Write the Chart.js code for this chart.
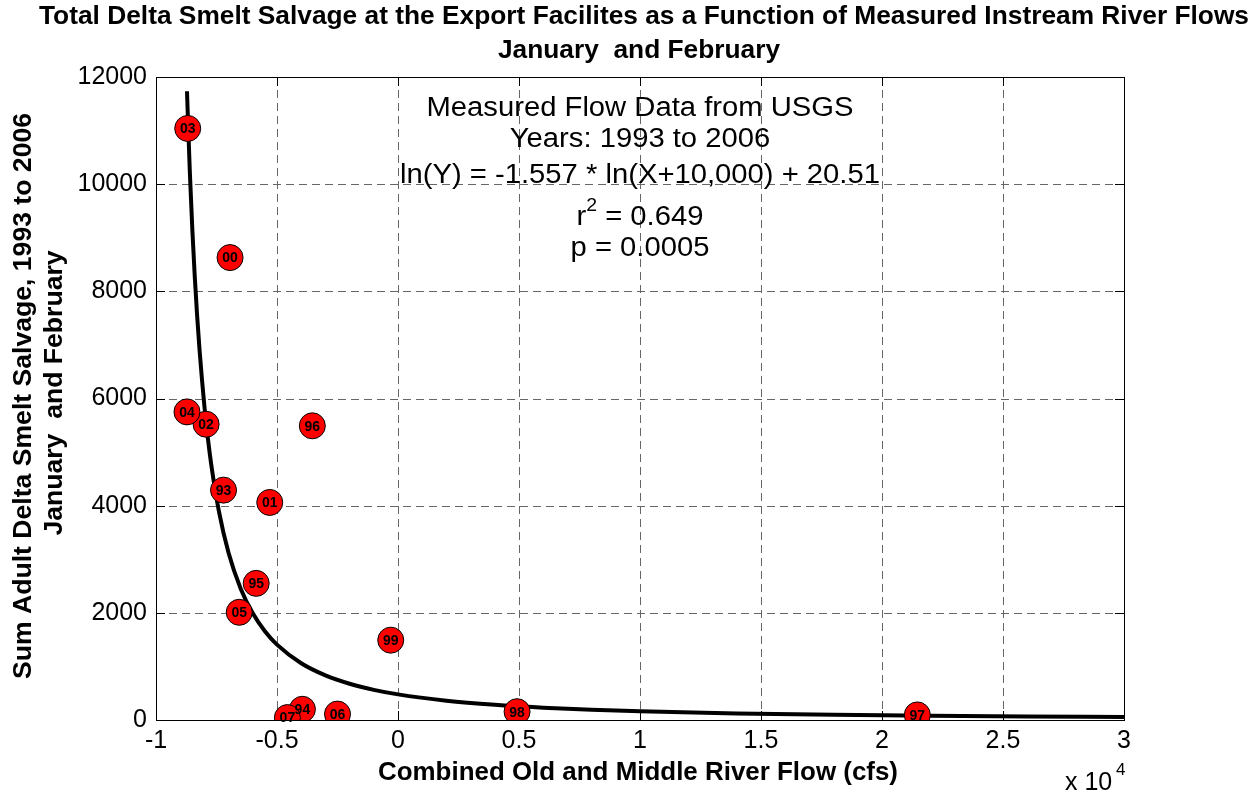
<!DOCTYPE html>
<html>
<head>
<meta charset="utf-8">
<script src="https://cdn.jsdelivr.net/npm/chart.js@4.4.1/dist/chart.umd.min.js"></script>
<style>
  html, body { margin: 0; padding: 0; background: #fff; }
  #chart { display: block; }
</style>
</head>
<body>
<canvas id="chart" width="1254" height="794"></canvas>
<script>
// Water years (labels on the markers)
const years = ['93', '94', '95', '96', '97', '98', '99', '00', '01', '02', '03', '04', '05', '06', '07'];
// Combined Old and Middle River flow, cfs
const flowCfs = [-7210, -3950, -5860, -3540, 21460, 4920, -300, -6940, -5300, -7930, -8690, -8720, -6560, -2500, -4570];
// Sum adult delta smelt salvage, Jan + Feb
const salvage = [4290, 200, 2550, 5490, 95, 155, 1490, 8630, 4060, 5520, 11040, 5750, 2010, 110, 45];

// Fitted curve
const fitFlow = [-8720, -8600, -8500, -8400, -8300, -8200, -8000, -7850, -7700, -7400, -7000, -6500, -6000, -5500, -5000,
                 -4000, -3000, -2000, -1000, 0, 2000, 4000, 6000, 8000, 10000, 14000, 18000, 22000, 26000, 30000];
const fitSalvage = [11735, 10207, 9166, 8290, 7543, 6901, 5857, 5233, 4711, 3893, 3115, 2451, 1991, 1657, 1406,
                    1059, 833, 677, 563, 478, 360, 283, 230, 191, 162, 122, 96, 78, 65, 55];

// Axis tick ranges
const xMin = -10000, xMax = 30000, xStep = 5000;
const yMin = 0, yMax = 12000, yStep = 2000;

const titleLines = ['Total Delta Smelt Salvage at the Export Facilites as a Function of Measured Instream River Flows', 'January  and February'];
const yTitleLines = ['Sum Adult Delta Smelt Salvage, 1993 to 2006', 'January  and February'];
const xTitle = 'Combined Old and Middle River Flow (cfs)';
const noteLines = ['Measured Flow Data from USGS', 'Years: 1993 to 2006', 'ln(Y) = -1.557 * ln(X+10,000) + 20.51'];
const FONT = '"Liberation Sans", Arial, Helvetica, sans-serif';

function setFont(ctx, size, bold) {
    ctx.font = (bold ? 'bold ' : '') + size + 'px ' + FONT;
}

// draw centered text, optionally squeezed/stretched horizontally
function drawText(ctx, text, x, y, size, bold, stretch, angle) {
    ctx.save();
    setFont(ctx, size, bold);
    ctx.translate(x, y);
    if (angle) ctx.rotate(angle);
    ctx.scale(stretch || 1, 1);
    ctx.textAlign = 'center';
    ctx.textBaseline = 'alphabetic';
    ctx.fillStyle = '#000';
    ctx.fillText(text, 0, 0);
    ctx.restore();
}

function stretchFor(ctx, text, size, bold, width) {
    setFont(ctx, size, bold);
    return width / ctx.measureText(text).width;
}

// dashed grid, box and inward ticks (MATLAB look)
const gridPlugin = {
    id: 'gridBox',
    beforeDatasetsDraw(chart) {
        const { ctx, chartArea: a, scales: { x, y } } = chart;
        ctx.save();
        ctx.lineWidth = 1;
        ctx.strokeStyle = '#666';
        ctx.setLineDash([8, 5]);
        x.ticks.forEach(t => {
            const px = Math.round(x.getPixelForValue(t.value)) + 0.5;
            ctx.beginPath(); ctx.moveTo(px, a.top); ctx.lineTo(px, a.bottom); ctx.stroke();
        });
        y.ticks.forEach(t => {
            const py = Math.round(y.getPixelForValue(t.value)) + 0.5;
            ctx.beginPath(); ctx.moveTo(a.left, py); ctx.lineTo(a.right, py); ctx.stroke();
        });
        ctx.setLineDash([]);
        ctx.strokeStyle = '#000';
        ctx.strokeRect(Math.round(a.left) + 0.5, Math.round(a.top) + 0.5, Math.round(a.right - a.left), Math.round(a.bottom - a.top));
        const tl = 9;
        ctx.beginPath();
        x.ticks.forEach(t => {
            const px = Math.round(x.getPixelForValue(t.value)) + 0.5;
            ctx.moveTo(px, a.bottom); ctx.lineTo(px, a.bottom - tl);
            ctx.moveTo(px, a.top); ctx.lineTo(px, a.top + tl);
        });
        y.ticks.forEach(t => {
            const py = Math.round(y.getPixelForValue(t.value)) + 0.5;
            ctx.moveTo(a.left, py); ctx.lineTo(a.left + tl, py);
            ctx.moveTo(a.right, py); ctx.lineTo(a.right - tl, py);
        });
        ctx.stroke();
        ctx.restore();
    }
};

// year labels on markers + all the titles and notes
const textPlugin = {
    id: 'texts',
    afterDatasetsDraw(chart) {
        const { ctx, scales: { x, y } } = chart;
        ctx.save();
        setFont(ctx, 14, true);
        ctx.textAlign = 'center';
        ctx.textBaseline = 'middle';
        ctx.fillStyle = '#000';
        years.forEach((yr, i) => {
            ctx.fillText(yr, x.getPixelForValue(flowCfs[i]), y.getPixelForValue(salvage[i]) + 1);
        });
        ctx.restore();
    },
    afterDraw(chart) {
        const ctx = chart.ctx;
        // chart title
        const ts = stretchFor(ctx, titleLines[0], 25, true, 1210);
        drawText(ctx, titleLines[0], 644, 24, 25, true, ts);
        drawText(ctx, titleLines[1], 639, 58, 25, true, ts);

        // axis titles
        const ys = stretchFor(ctx, yTitleLines[0], 26, true, 566);
        drawText(ctx, yTitleLines[0], 31, 396, 26, true, ys, -Math.PI / 2);
        drawText(ctx, yTitleLines[1], 62, 393, 26, true, ys, -Math.PI / 2);
        const xs = stretchFor(ctx, xTitle, 26, true, 520);
        drawText(ctx, xTitle, 638, 780, 26, true, xs);

        // x 10^4 multiplier
        ctx.save();
        setFont(ctx, 25, false);
        ctx.fillStyle = '#000';
        ctx.textAlign = 'left';
        ctx.fillText('x 10', 1065, 790);
        setFont(ctx, 17, false);
        ctx.fillText('4', 1116, 775);
        ctx.restore();

        // fit note
        const fs = 27;
        const ns = stretchFor(ctx, noteLines[0], fs, false, 427);
        drawText(ctx, noteLines[0], 640, 116, fs, false, ns);
        drawText(ctx, noteLines[1], 640, 147, fs, false, ns);
        drawText(ctx, noteLines[2], 640, 183, fs, false, ns);

        // r^2 line
        ctx.save();
        setFont(ctx, fs, false);
        const wR = ctx.measureText('r').width * ns;
        const wRest = ctx.measureText(' = 0.649').width * ns;
        setFont(ctx, 18, false);
        const w2 = ctx.measureText('2').width * ns;
        const sx = 640 - (wR + w2 + wRest) / 2;
        ctx.fillStyle = '#000';
        ctx.textAlign = 'left';
        ctx.translate(sx, 225);
        ctx.scale(ns, 1);
        setFont(ctx, fs, false);
        ctx.fillText('r', 0, 0);
        setFont(ctx, 18, false);
        ctx.fillText('2', wR / ns, -14);
        setFont(ctx, fs, false);
        ctx.fillText(' = 0.649', (wR + w2) / ns, 0);
        ctx.restore();

        drawText(ctx, 'p = 0.0005', 640, 256, fs, false, ns);
    }
};

const ctx = document.getElementById('chart').getContext('2d');

const pointData = flowCfs.map((v, i) => ({ x: v, y: salvage[i] }));
const fitData = fitFlow.map((v, i) => ({ x: v, y: fitSalvage[i] }));

new Chart(ctx, {
    type: 'scatter',
    data: {
        datasets: [{
            label: 'Salvage',
            data: pointData,
            backgroundColor: '#ff0000',
            borderColor: '#000',
            borderWidth: 1,
            pointRadius: 13,
            pointHoverRadius: 13,
            order: 0
        }, {
            label: 'Fit',
            data: fitData,
            showLine: true,
            borderColor: '#000',
            borderWidth: 4,
            pointRadius: 0,
            cubicInterpolationMode: 'monotone',
            order: 1
        }]
    },
    options: {
        responsive: false,
        animation: false,
        devicePixelRatio: 1,
        layout: { padding: { top: 77, right: 130, left: 0, bottom: 0 } },
        plugins: {
            legend: { display: false },
            tooltip: { enabled: false },
            title: { display: false }
        },
        scales: {
            x: {
                type: 'linear',
                min: xMin,
                max: xMax,
                grid: { display: false, drawTicks: false },
                border: { display: false },
                afterFit: scale => { scale.height = 74; },
                ticks: {
                    stepSize: xStep,
                    padding: 6,
                    color: '#000',
                    font: { family: FONT, size: 25 },
                    maxRotation: 0,
                    callback: v => String(v / 10000)
                }
            },
            y: {
                type: 'linear',
                min: yMin,
                max: yMax,
                grid: { display: false, drawTicks: false },
                border: { display: false },
                afterFit: scale => { scale.width = 156; },
                ticks: {
                    stepSize: yStep,
                    padding: 9,
                    color: '#000',
                    font: { family: FONT, size: 25 },
                    callback: v => String(v)
                }
            }
        }
    },
    plugins: [gridPlugin, textPlugin]
});
</script>
</body>
</html>
